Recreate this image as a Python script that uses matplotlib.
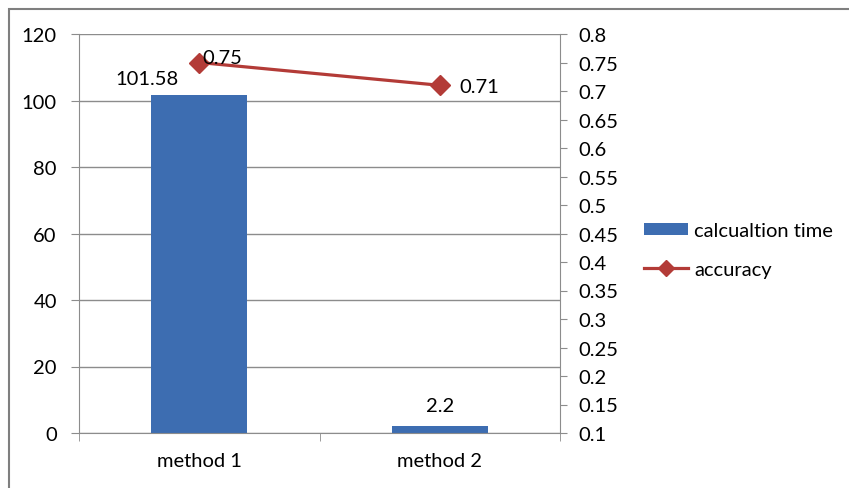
import matplotlib
matplotlib.use("Agg")
import matplotlib.pyplot as plt
from matplotlib.patches import Rectangle
from matplotlib.ticker import MultipleLocator, FixedLocator, FuncFormatter

categories = ["method 1", "method 2"]
calc_time = [101.58, 2.2]
accuracy = [0.75, 0.71]
time_labels = ["101.58", "2.2"]
acc_labels = ["0.75", "0.71"]

plt.rcParams["font.family"] = ["Lato", "DejaVu Sans"]
FS = 14.5
GRID = "#8c8c8c"
BAR = "#3d6db1"
LINE = "#b33b37"

W, H = 849, 489
fig = plt.figure(figsize=(W / 100, H / 100), dpi=100)

# outer chart frame
fig.patches.append(Rectangle((9 / W, -0.05), 1.1, (H - 10) / H + 0.05,
                             transform=fig.transFigure, fill=False,
                             edgecolor="#7f7f7f", linewidth=1.5))

ax = fig.add_axes([79 / W, (H - 434) / H, (560 - 79) / W, (434 - 35) / H])
x = list(range(len(categories)))
bars = ax.bar(x, calc_time, width=0.4, color=BAR, zorder=2,
              label="calcualtion time")
ax.set_xlim(-0.5, 1.5)
ax.set_ylim(0, 120)
ax.yaxis.set_major_locator(MultipleLocator(20))
ax.grid(axis="y", color=GRID, linewidth=1, zorder=0)
ax.set_axisbelow(True)
for s in ["top", "right"]:
    ax.spines[s].set_visible(False)
for s in ["left", "bottom"]:
    ax.spines[s].set_color(GRID)
ax.set_xticks(x)
ax.set_xticklabels(categories, fontsize=FS)
ax.xaxis.set_minor_locator(FixedLocator([-0.5, 0.5, 1.5]))
ax.tick_params(axis="x", which="major", length=0, pad=14)
ax.tick_params(axis="x", which="minor", length=6, color=GRID)
ax.tick_params(axis="y", length=6, color=GRID, labelsize=FS, pad=10)

ax.annotate(time_labels[0], (x[0], calc_time[0]), xytext=(-52, 8),
            textcoords="offset pixels", ha="center", va="bottom", fontsize=FS)
ax.annotate(time_labels[1], (x[1], calc_time[1]), xytext=(0, 12),
            textcoords="offset pixels", ha="center", va="bottom", fontsize=FS)

ax2 = ax.twinx()
ax2.set_ylim(0.1, 0.8)
ax2.yaxis.set_major_locator(MultipleLocator(0.05))
ax2.yaxis.set_major_formatter(FuncFormatter(
    lambda v, p: ("%.2f" % v).rstrip("0").rstrip(".")))
line, = ax2.plot(x, accuracy, color=LINE, linewidth=2.3, marker="D",
                 markersize=10.5, zorder=3, label="accuracy")
for s in ["top", "left", "bottom"]:
    ax2.spines[s].set_visible(False)
ax2.spines["right"].set_color(GRID)
ax2.tick_params(axis="y", length=5, color=GRID, labelsize=FS, pad=8)

ax2.annotate(acc_labels[0], (x[0], accuracy[0]), xytext=(3, 5),
             textcoords="offset pixels", ha="left", va="center", fontsize=FS)
ax2.annotate(acc_labels[1], (x[1], accuracy[1]), xytext=(20, -1),
             textcoords="offset pixels", ha="left", va="center", fontsize=FS)

leg = fig.legend([bars, line], ["calcualtion time", "accuracy"],
                 loc="upper left", bbox_to_anchor=(644 / W, (H - 223) / H),
                 frameon=False, fontsize=FS, handlelength=2.2,
                 handleheight=0.55, handletextpad=0.3, labelspacing=1.08,
                 borderaxespad=0, borderpad=0)
leg.legend_handles[1].set_markersize(8)

fig.savefig("out.png", dpi=100)
